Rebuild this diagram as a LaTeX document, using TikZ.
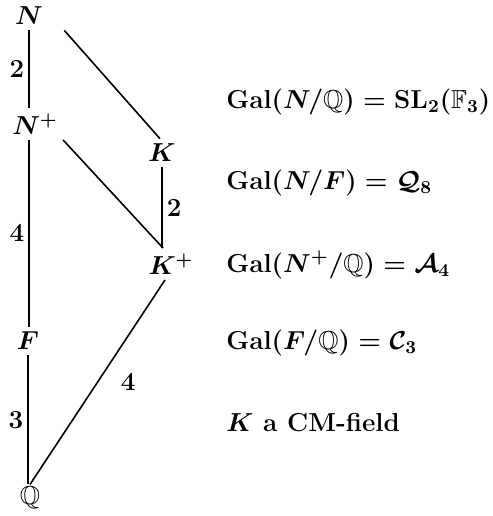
\RequirePackage{fix-cm}
\documentclass[tikz,border=0pt]{standalone}
\usepackage{amsmath, amssymb}
\usepackage{tikz}

\begin{document}
\begin{tikzpicture}[
    x=0.5pt, y=-0.5pt,
    font = \fontsize{13}{15}\selectfont\bfseries\boldmath,
    %% ── styles ───────────────────────────────────────────────
    fld/.style  = {inner sep=2.5pt},
    deg/.style  = {inner sep=2pt},
    info/.style = {anchor=west, inner sep=0pt},
    ext/.style  = {thick}
]
\useasboundingbox (0,0) rectangle (493,516);

%% ── Fields ───────────────────────────────────────────────────
\node[fld] (N)  at (29,16)  {$N$};
\node[fld] (Np) at (35,124) {$N^+$};
\node[fld] (K)  at (162,153) {$K$};
\node[fld] (Kp) at (171,264) {$K^+$};
\node[fld] (F)  at (28,341) {$F$};
\node[fld, inner sep=1pt] (Q) at (30,498) {$\mathbb{Q}$};

%% ── Extensions ───────────────────────────────────────────────
\draw[ext] (N.south) -- node[deg, left] {2} (N.south |- Np.north);
\draw[ext] ([xshift=-3pt]Np.south) -- node[deg, left] {4}
    ([xshift=-3pt]Np.south |- F.north);
\draw[ext] (F.south) -- node[deg, left] {3} (F.south |- Q.north);
\draw[ext] ([xshift=8pt]N.south east) -- ([xshift=-1pt]K.north);
\draw[ext] (Np.south east) -- ([xshift=-4pt]Kp.north);
\draw[ext] (K.south) -- node[deg, right] {2} (K.south |- Kp.north);
\draw[ext] (Q.north) -- node[right=8pt] {4} ([xshift=-3pt]Kp.south);

%% ── Galois groups ────────────────────────────────────────────
\node[info] (g1) at (226,102) {$\mathrm{Gal}(N/\mathbb{Q}) = \mathrm{SL}_2(\mathbb{F}_3)$};
\node[info] (g2) at (226,183) {$\mathrm{Gal}(N/F) = \mathcal{Q}_8$};
\node[info] (g3) at (226,265) {$\mathrm{Gal}(N^+/\mathbb{Q}) = \mathcal{A}_4$};
\node[info] (g4) at (226,343) {$\mathrm{Gal}(F/\mathbb{Q}) = \mathcal{C}_3$};
\node[info] (g5) at (226,423) {$K$ a CM-field};

\end{tikzpicture}
\end{document}
